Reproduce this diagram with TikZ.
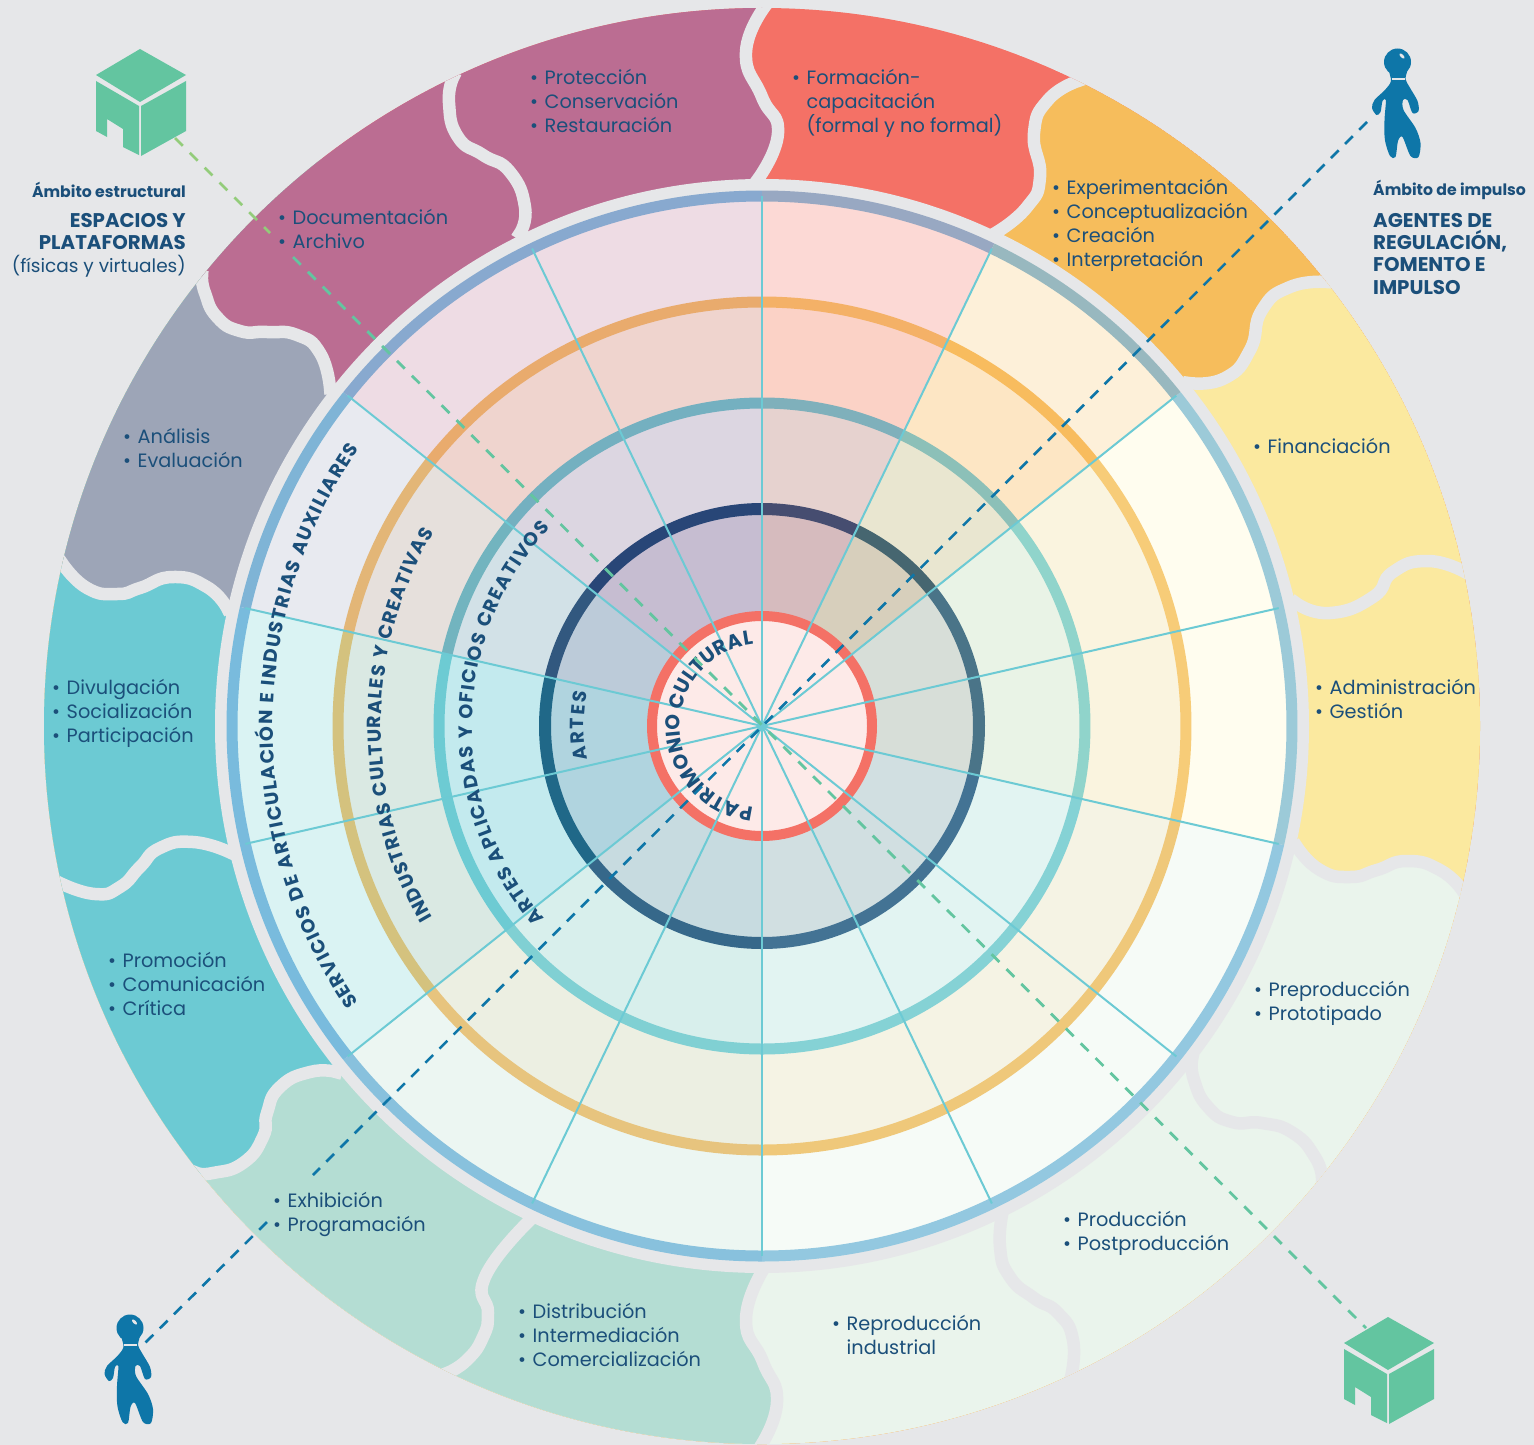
\documentclass[tikz,border=0pt]{standalone}
\usepackage{fontspec}
\setmainfont{Poppins}
\usepackage{tikz}
\usetikzlibrary{decorations.text}
\definecolor{pagegray}{HTML}{E6E7E9}
\definecolor{textblue}{HTML}{1B4F7A}
\definecolor{iconblue}{HTML}{0E76A8}
\definecolor{icongreen}{HTML}{63C5A0}
\definecolor{limedash}{HTML}{93CC7A}
\definecolor{spokecol}{HTML}{6CCAD4}
\definecolor{hubfill}{HTML}{FDEAE8}
\definecolor{segred}{HTML}{F47166}
\definecolor{segorange}{HTML}{F6BD5C}
\definecolor{segyellow}{HTML}{FBE99F}
\definecolor{seggreen}{HTML}{EAF4EC}
\definecolor{segmint}{HTML}{B4DDD3}
\definecolor{segteal}{HTML}{6CCAD3}
\definecolor{seggray}{HTML}{9DA5B7}
\definecolor{segpink}{HTML}{BB6D92}
\tikzset
{
  gapline/.style   = {draw=pagegray, line width=12.5pt, line cap=rect},
  spoke/.style     = {draw=spokecol, line width=2pt},
  cubedash/.style  = {draw=icongreen, line width=2.8pt, dash pattern=on 11pt off 10pt},
  agentdash/.style = {draw=iconblue, line width=2.6pt, dash pattern=on 11pt off 9pt},
  listlabel/.style = {anchor=north west, align=left, inner sep=0pt, yshift=-2pt, text=textblue, font=\fontsize{19.3}{24}\selectfont, execute at begin node=\strut},
  headlabel/.style = {inner sep=0pt, text=textblue},
  ringtext/.style  = {decorate, decoration={text along path, text color=textblue, text align=fit to path, text={|\curvefont|#1}}},
  hubtext/.style   = {decorate, decoration={text along path, text color=textblue, text align=fit to path, text={|\hubfont|#1}}},
  cubeicon/.pic = {
    \fill[icongreen] (0,0) -- (46,26) -- (0,53) -- (-44,26) -- cycle;
    \fill[icongreen] (-44,32) -- (-1,57) -- (-1,106) -- (-17,98) -- (-17,80) -- (-33,70) -- (-33,88) -- (-44,82) -- cycle;
    \fill[icongreen] (1,57) -- (46,32) -- (46,82) -- (1,107) -- cycle;
  },
  agenticon/.pic = {
    \fill[iconblue] (0,0) circle (13.5);
    \fill[iconblue] plot[smooth cycle, tension=0.5] coordinates {(9,6) (8,17) (12,25) (20,39) (21,49) (15,51) (10,38) (5.5,38) (6,48) (18,66) (23,81) (21,95) (13,94) (5,75) (0.5,79) (-2,95) (-7.5,94) (-12.6,78) (-13,58) (-11.6,38) (-15,39) (-17,50) (-21,53) (-25.5,46) (-23,38) (-12.6,28) (-6.5,19) (-8,6)};
    \draw[pagegray, line width=1.8pt] (-6,17) -- (7,17);
    \fill[pagegray, shift={(4.5,-6)}, rotate=-45] (0,0) ellipse (3.2 and 1.5);
  }
}
\newcommand{\curvefont}{\bfseries\fontsize{19}{22}\selectfont}
\newcommand{\hubfont}{\bfseries\fontsize{20}{22}\selectfont}
\newcommand{\bul}{\makebox[14.5pt][l]{•}}
% borders between the outer segments, inner end first
\newcommand{\bndB}{plot[smooth,tension=0.9] coordinates {(997,232) (1027,207) (1040,177) (1034,133) (1048,100) (1078,81)}}
\newcommand{\bndC}{plot[smooth,tension=0.9] coordinates {(1189,383) (1225,378) (1250,350) (1262,310) (1290,287) (1327,282)}}
\newcommand{\bndD}{plot[smooth,tension=0.9] coordinates {(1296,603) (1330,613) (1373,597) (1393,572) (1427,561) (1463,571)}}
\newcommand{\bndE}{plot[smooth,tension=0.9] coordinates {(1297,847) (1320,870) (1350,877) (1377,870) (1407,861) (1440,870) (1462,890)}}
\newcommand{\bndF}{plot[smooth,tension=0.9] coordinates {(1192,1060) (1194,1080) (1208,1107) (1232,1122) (1262,1123) (1293,1133) (1315,1157) (1322,1178)}}
\newcommand{\bndG}{plot[smooth,tension=0.9] coordinates {(1003,1210) (1000,1247) (1010,1277) (1034,1298) (1058,1313) (1073,1340) (1071,1377)}}
\newcommand{\bndH}{plot[smooth,tension=0.9] coordinates {(763,1270) (746,1320) (763,1362) (777,1402) (760,1447)}}
\newcommand{\bndI}{plot[smooth,tension=0.9] coordinates {(527,1223) (485,1277) (488,1313) (483,1337) (467,1360) (447,1373)}}
\newcommand{\bndJ}{plot[smooth,tension=0.9] coordinates {(336,1072) (310,1072) (280,1087) (267,1113) (263,1137) (243,1163) (213,1173) (197,1173)}}
\newcommand{\bndK}{plot[smooth,tension=0.9] coordinates {(229,852) (193,842) (160,848) (140,867) (120,887) (95,894) (60,883)}}
\newcommand{\bndL}{plot[smooth,tension=0.9] coordinates {(227,608) (207,587) (173,577) (140,588) (117,594) (87,588) (62,563)}}
\newcommand{\bndM}{plot[smooth,tension=0.9] coordinates {(330,388) (320,353) (297,335) (267,332) (240,331) (217,317) (205,293) (202,277)}}
\newcommand{\bndN}{plot[smooth,tension=0.9] coordinates {(520,233) (525,207) (510,172) (483,155) (458,137) (449,103) (453,78)}}
\newcommand{\bndA}{plot[smooth,tension=0.9] coordinates {(758,179) (778,133) (762,97) (746,52) (766,5)}}
\newcommand{\farloop}{-- (1900,1900) -- (-400,1900) -- (-400,-400) -- (-39,-298) -- (762,726) -- cycle}
\begin{document}
\begin{tikzpicture}[x=1pt,y=-1pt]
  \fill[pagegray] (0,0) rectangle (1534,1445);
  \useasboundingbox (0,0) rectangle (1534,1445);
  \coordinate (hub) at (762,726);
  % outer segments
  \begin{scope}
    \clip (hub) circle (718);
    \fill[segred] (hub) circle (718);
    \fill[segorange] \bndB -- (1300,-372) -- (1900,-372) \farloop;
    \fill[segyellow] \bndC -- (1900,-169) \farloop;
    \fill[seggreen] \bndE -- (1900,992) \farloop;
    \fill[segmint] \bndH -- (760,1900) -- (-400,1900) -- (-400,-400) -- (-39,-298) -- (762,726) -- cycle;
    \fill[segteal] \bndJ -- (-400,1645) -- (-400,-400) -- (-39,-298) -- (762,726) -- cycle;
    \fill[seggray] \bndL -- (-400,455) -- (-400,-400) -- (-39,-298) -- (762,726) -- cycle;
    \fill[segpink] \bndM -- (-400,-206) -- (-400,-400) -- (766,-400) -- plot[smooth,tension=0.9] coordinates {(766,5) (746,52) (762,97) (778,133) (758,179)} -- (762,726) -- cycle;
    \foreach \bnd in {\bndA,\bndB,\bndC,\bndD,\bndE,\bndF,\bndG,\bndH,\bndI,\bndJ,\bndK,\bndL,\bndM,\bndN}
      \draw[gapline] \bnd;
    \fill[pagegray] (hub) circle (547);
  \end{scope}
  % the wheel
  \begin{scope}[shift={(762,726)},x=1pt,y=1pt]
    \foreach \angA/\angB/\tintA/\tintB/\tintC/\tintD/\colA/\colB/\colC/\colD in {
      90/64.286/FCD9D5/FBD2C6/E6D2CF/D6BBBE/98A8C2/F4B167/7FB0BB/464D70,
      64.286/38.571/FDF0D9/FDE6C4/E9E6D0/D7CFBC/98B8BF/F8BC5E/8CC0B8/466670,
      38.571/-12.857/FFFDEF/FAF4DF/E9F3E6/D7DED8/9CCAD8/F7CC78/90D4CB/4A7488,
      -12.857/-90/F6FBF7/F5F3E4/E2F4F2/D1DFE1/93C8E0/EFC87A/85D2D5/437394,
      -90/-141.43/ECF6F2/ECEFE2/D8EFEC/C7DBE0/88C1DD/E7C47E/80D0D3/36688A,
      -141.43/-192.857/DAF3F3/DAE9E3/C3EAEE/B0D4DF/79BBDD/D4C27E/6DCBD3/206888,
      -192.857/-218.57/E8EAF0/E6E0DC/D2E1E7/BCCBD9/7FB4D6/E3B677/72B4BF/32587F,
      -218.57/-270/EEDCE4/EFD4CE/DCD6E1/C6BDD1/88A9CF/E9AB6D/74B0C0/284677}
    {
      \definecolor{tintA}{HTML}{\tintA}
      \definecolor{tintB}{HTML}{\tintB}
      \definecolor{tintC}{HTML}{\tintC}
      \definecolor{tintD}{HTML}{\tintD}
      \definecolor{ringA}{HTML}{\colA}
      \definecolor{ringB}{HTML}{\colB}
      \definecolor{ringC}{HTML}{\colC}
      \definecolor{ringD}{HTML}{\colD}
      \fill[tintA] (0,0) -- (\angA:526) arc[start angle=\angA,end angle=\angB,radius=526] -- cycle;
      \fill[tintB] (0,0) -- (\angA:424) arc[start angle=\angA,end angle=\angB,radius=424] -- cycle;
      \fill[tintC] (0,0) -- (\angA:323) arc[start angle=\angA,end angle=\angB,radius=323] -- cycle;
      \fill[tintD] (0,0) -- (\angA:217) arc[start angle=\angA,end angle=\angB,radius=217] -- cycle;
      \draw[ringA, line width=11pt] (\angA:530) arc[start angle=\angA,end angle=\angB,radius=530];
      \draw[ringB, line width=11pt] (\angA:424) arc[start angle=\angA,end angle=\angB,radius=424];
      \draw[ringC, line width=11pt] (\angA:323) arc[start angle=\angA,end angle=\angB,radius=323];
      \draw[ringD, line width=12pt] (\angA:217) arc[start angle=\angA,end angle=\angB,radius=217];
    }
    \fill[hubfill] (0,0) circle (110);
    \draw[segred, line width=10pt] (0,0) circle (110);
    \foreach \k in {0,...,13}
      \draw[spoke] (0,0) -- ({90-\k*25.7143}:530);
    % names on the rings
    \path[ringtext={SERVICIOS DE ARTICULACIÓN E INDUSTRIAS AUXILIARES}] (214.5:489) arc[start angle=214.5,end angle=145.5,radius=489];
    \path[ringtext={INDUSTRIAS CULTURALES Y CREATIVAS}] (210.2:381) arc[start angle=210.2,end angle=149.5,radius=381];
    \path[ringtext={ARTES APLICADAS Y OFICIOS CREATIVOS}] (221.5:290) arc[start angle=221.5,end angle=137,radius=290];
    \path[ringtext={ARTES}] (191:178) arc[start angle=191,end angle=169,radius=178];
    \path[hubtext={PATRIMONIO CULTURAL}] (264:82) arc[start angle=264,end angle=96,radius=82];
  \end{scope}
  % the two axes
  \coordinate (cubeTL) at (175,138);
  \coordinate (cubeBR) at (1366,1328);
  \coordinate (agentTR) at (1367,122);
  \coordinate (agentBL) at (143,1345);
  \coordinate (gapArchA) at (270,233);
  \coordinate (gapArchB) at (293,257);
  \coordinate (gapProgA) at (267,1222);
  \coordinate (gapProgB) at (313,1175);
  \draw[cubedash, draw=limedash] (cubeTL) -- (gapArchA);
  \draw[cubedash] (gapArchB) -- (cubeBR);
  \draw[agentdash] (agentTR) -- (gapProgB);
  \draw[agentdash] (gapProgA) -- (agentBL);
  \pic (cubeA) at (140,49) {cubeicon};
  \pic (cubeB) at (1388,1317) {cubeicon};
  \pic (agentA) at (1397.5,62) {agenticon};
  \pic (agentB) at (130,1328) {agenticon};
  % lists in the segments
  \node[listlabel] (protec) at (530,67) {\bul Protección\\\bul Conservación\\\bul Restauración};
  \node[listlabel] (formac) at (792,67) {\bul Formación-\\\hspace*{14.5pt}capacitación\\\hspace*{14.5pt}(formal y no formal)};
  \node[listlabel] (experi) at (1052,177) {\bul Experimentación\\\bul Conceptualización\\\bul Creación\\\bul Interpretación};
  \node[listlabel] (financ) at (1253,434) {\bul Financiación};
  \node[listlabel] (admini) at (1315,677) {\bul Administración\\\bul Gestión};
  \node[listlabel] (prepro) at (1254,979) {\bul Preproducción\\\bul Prototipado};
  \node[listlabel] (produc) at (1063,1209) {\bul Producción\\\bul Postproducción};
  \node[listlabel] (reprod) at (832,1313) {\bul Reproducción\\\hspace*{14.5pt}industrial};
  \node[listlabel] (distri) at (518,1301) {\bul Distribución\\\bul Intermediación\\\bul Comercialización};
  \node[listlabel] (exhibi) at (273,1190) {\bul Exhibición\\\bul Programación};
  \node[listlabel] (promoc) at (108,950) {\bul Promoción\\\bul Comunicación\\\bul Crítica};
  \node[listlabel] (divulg) at (52,677) {\bul Divulgación\\\bul Socialización\\\bul Participación};
  \node[listlabel] (analis) at (123,426) {\bul Análisis\\\bul Evaluación};
  \node[listlabel] (docume) at (278,207) {\bul Documentación\\\bul Archivo};
  % headings
  \node[headlabel, anchor=east, font=\bfseries\fontsize{15.7}{18}\selectfont] (ambitoA) at (186,190) {Ámbito estructural};
  \node[headlabel, anchor=north east, align=right, font=\bfseries\fontsize{19.8}{22.3}\selectfont] (espacios) at (186,213) {ESPACIOS Y\\PLATAFORMAS};
  \node[headlabel, anchor=east, font=\fontsize{18.5}{22}\selectfont] (fisicas) at (186,266) {(físicas y virtuales)};
  \node[headlabel, anchor=west, font=\bfseries\fontsize{15.7}{18}\selectfont] (ambitoB) at (1373,190) {Ámbito de impulso};
  \node[headlabel, anchor=north west, align=left, font=\bfseries\fontsize{19.8}{22.3}\selectfont] (agentes) at (1373,213) {AGENTES DE\\REGULACIÓN,\\FOMENTO E\\IMPULSO};
\end{tikzpicture}
\end{document}
